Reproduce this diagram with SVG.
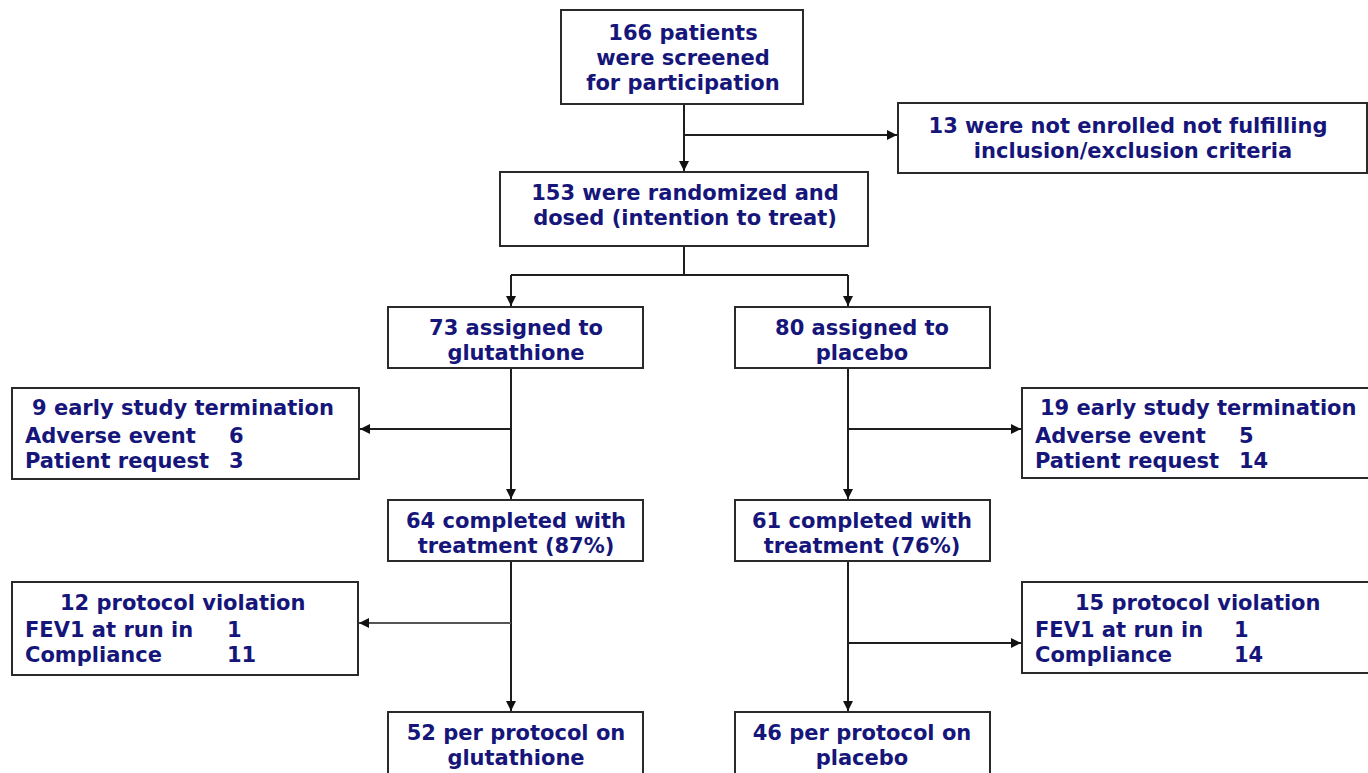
<svg xmlns="http://www.w3.org/2000/svg" width="1368" height="773" viewBox="0 0 1368 773">
<style>
.box{fill:#fff;stroke:#2a2a2a;stroke-width:2}
.t{font-family:"DejaVu Sans","Verdana",sans-serif;font-weight:bold;font-size:21px;fill:#16167a}
.c{text-anchor:middle}
.ln{fill:none;stroke:#1e1e1e;stroke-width:2}
</style>
<defs>
<marker id="ah" viewBox="0 0 10 10" refX="10" refY="5" markerWidth="10" markerHeight="10" markerUnits="userSpaceOnUse" orient="auto">
<path d="M0,0 L10,5 L0,10 z" fill="#111"/>
</marker>
</defs>
<rect width="1368" height="773" fill="#fff"/>
<g id="connectors">
<path class="ln" d="M684,104 V171" marker-end="url(#ah)"/>
<path class="ln" d="M684,135 H897" marker-end="url(#ah)"/>
<path class="ln" d="M684,246 V275 M511,275 H848"/>
<path class="ln" d="M511,275 V306" marker-end="url(#ah)"/>
<path class="ln" d="M848,275 V306" marker-end="url(#ah)"/>
<path class="ln" d="M511,368 V499" marker-end="url(#ah)"/>
<path class="ln" d="M511,429 H360" marker-end="url(#ah)"/>
<path class="ln" d="M848,368 V499" marker-end="url(#ah)"/>
<path class="ln" d="M848,429 H1021" marker-end="url(#ah)"/>
<path class="ln" d="M511,561 V711" marker-end="url(#ah)"/>
<path class="ln" d="M511,623 H359" style="stroke:#555" marker-end="url(#ah)"/>
<path class="ln" d="M848,561 V711" marker-end="url(#ah)"/>
<path class="ln" d="M848,643 H1021" marker-end="url(#ah)"/>
</g>
<g id="screened">
<rect class="box" x="561" y="10" width="242" height="94"/>
<text class="t c" x="683" y="40">166 patients</text>
<text class="t c" x="683" y="65">were screened</text>
<text class="t c" x="683" y="90">for participation</text>
</g>
<g id="not-enrolled">
<rect class="box" x="898" y="103" width="469" height="70"/>
<text class="t c" x="1128" y="133">13 were not enrolled not fulfilling</text>
<text class="t c" x="1133" y="158">inclusion/exclusion criteria</text>
</g>
<g id="randomized">
<rect class="box" x="500" y="172" width="368" height="74"/>
<text class="t c" x="685" y="200">153 were randomized and</text>
<text class="t c" x="685" y="225">dosed (intention to treat)</text>
</g>
<g id="glut">
<rect class="box" x="388" y="307" width="255" height="61"/>
<text class="t c" x="516" y="335">73 assigned to</text>
<text class="t c" x="516" y="360">glutathione</text>
</g>
<g id="placebo">
<rect class="box" x="735" y="307" width="255" height="61"/>
<text class="t c" x="862" y="335">80 assigned to</text>
<text class="t c" x="862" y="360">placebo</text>
</g>
<g id="early-glut">
<rect class="box" x="12" y="388" width="347" height="91"/>
<text class="t" x="32" y="415">9 early study termination</text>
<text class="t" x="25" y="443">Adverse event</text>
<text class="t" x="229" y="443">6</text>
<text class="t" x="25" y="468">Patient request</text>
<text class="t" x="229" y="468">3</text>
</g>
<g id="early-placebo">
<rect class="box" x="1022" y="388" width="360" height="90"/>
<text class="t" x="1040" y="415">19 early study termination</text>
<text class="t" x="1035" y="443">Adverse event</text>
<text class="t" x="1239" y="443">5</text>
<text class="t" x="1035" y="468">Patient request</text>
<text class="t" x="1239" y="468">14</text>
</g>
<g id="completed-glut">
<rect class="box" x="388" y="500" width="255" height="61"/>
<text class="t c" x="516" y="528">64 completed with</text>
<text class="t c" x="516" y="553">treatment (87%)</text>
</g>
<g id="completed-placebo">
<rect class="box" x="735" y="500" width="255" height="61"/>
<text class="t c" x="862" y="528">61 completed with</text>
<text class="t c" x="862" y="553">treatment (76%)</text>
</g>
<g id="protocol-glut">
<rect class="box" x="12" y="582" width="346" height="93"/>
<text class="t" x="60" y="610">12 protocol violation</text>
<text class="t" x="25" y="637">FEV1 at run in</text>
<text class="t" x="227" y="637">1</text>
<text class="t" x="25" y="662">Compliance</text>
<text class="t" x="227" y="662">11</text>
</g>
<g id="protocol-placebo">
<rect class="box" x="1022" y="582" width="360" height="91"/>
<text class="t" x="1075" y="610">15 protocol violation</text>
<text class="t" x="1035" y="637">FEV1 at run in</text>
<text class="t" x="1234" y="637">1</text>
<text class="t" x="1035" y="662">Compliance</text>
<text class="t" x="1234" y="662">14</text>
</g>
<g id="pp-glut">
<rect class="box" x="388" y="712" width="255" height="80"/>
<text class="t c" x="516" y="740">52 per protocol on</text>
<text class="t c" x="516" y="765">glutathione</text>
</g>
<g id="pp-placebo">
<rect class="box" x="735" y="712" width="255" height="80"/>
<text class="t c" x="862" y="740">46 per protocol on</text>
<text class="t c" x="862" y="765">placebo</text>
</g>
</svg>
